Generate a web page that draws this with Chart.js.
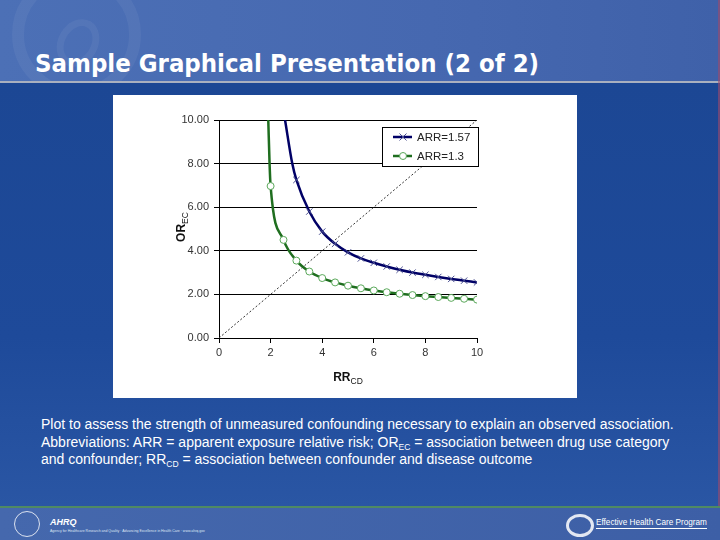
<!DOCTYPE html>
<html>
<head>
<meta charset="utf-8">
<script src="https://cdn.jsdelivr.net/npm/chart.js@4/dist/chart.umd.min.js"></script>
<style>
  html, body { margin: 0; padding: 0; }
  body { width: 720px; height: 540px; position: relative; overflow: hidden;
         background: #1d4796; font-family: "Liberation Sans", Arial, sans-serif; }
  #top { position: absolute; left: 0; top: 0; width: 720px; height: 81px; overflow: hidden;
         background: linear-gradient(90deg, #4c70b6 0%, #4668b0 60%, #3f61a9 100%); }
  #sep { position: absolute; left: 0; top: 81px; width: 720px; height: 2px; background: #a9b0bf; }
  #body { position: absolute; left: 0; top: 83px; width: 720px; height: 423px;
          background: linear-gradient(180deg, #1c4794 0%, #1e4a9a 60%, #2a56a4 100%); }
  #swirl1 { position: absolute; left: 12px; top: -30px; width: 105px; height: 105px; border-radius: 50%;
            border: 12px solid rgba(255,255,255,0.05); }
  #swirl2 { position: absolute; left: 58px; top: 18px; width: 26px; height: 36px; border-radius: 50%;
            border: 7px solid rgba(255,255,255,0.05); transform: rotate(30deg); }
  #title { position: absolute; left: 35px; top: 48px; color: #ffffff;
           font-family: "DejaVu Sans Condensed", "DejaVu Sans", sans-serif; font-weight: bold;
           font-size: 25.5px; white-space: nowrap; }
  #panel { position: absolute; left: 113px; top: 95px; width: 464px; height: 303px; background: #ffffff; }
  #caption { position: absolute; left: 41px; top: 416px; width: 680px; color: #ffffff;
             font-size: 14px; line-height: 17.5px; white-space: nowrap; }
  #caption sub { font-size: 8.5px; vertical-align: -3px; line-height: 0; }
  #foot { position: absolute; left: 0; top: 506px; width: 720px; height: 34px;
          background: linear-gradient(90deg, #4568ad 0%, #3d5fa6 100%); border-top: 2px solid #4f8a63; }
  #ahrq { position: absolute; left: 50px; top: 9px; color: #fff; font-weight: bold; font-style: italic;
          font-size: 9px; }
  #ahrqsub { position: absolute; left: 50px; top: 21px; color: #dfe6f3; font-size: 3.5px; white-space: nowrap; }
  #hhs { position: absolute; left: 14px; top: 3px; width: 24px; height: 24px; border-radius: 50%;
         border: 1.5px solid rgba(255,255,255,0.8); }
  #ehc { position: absolute; left: 596px; top: 10px; color: #ffffff; font-size: 8.2px; white-space: nowrap;
         border-bottom: 1px solid #ffffff; padding-bottom: 1px; }
  #ehclogo { position: absolute; left: 566px; top: 6px; width: 22px; height: 17px; border-radius: 50%;
             border: 3px solid rgba(255,255,255,0.85); }
  #edge { position: absolute; right: 0; top: 0; width: 2px; height: 540px; background: #a04a6a; opacity: 0.6; }
</style>
</head>
<body>
<div id="top"><div id="swirl1"></div><div id="swirl2"></div></div>
<div id="sep"></div>
<div id="body"></div>
<div id="edge"></div>
<div id="title">Sample Graphical Presentation (2 of 2)</div>
<div id="panel"><canvas id="chart" width="464" height="303"></canvas></div>
<div id="caption">Plot to assess the strength of unmeasured confounding necessary to explain an observed association.<br>Abbreviations: ARR = apparent exposure relative risk; OR<sub>EC</sub> = association between drug use category<br>and confounder; RR<sub>CD</sub> = association between confounder and disease outcome</div>
<div id="foot">
  <div id="hhs"></div>
  <div id="ahrq">AHRQ</div>
  <div id="ahrqsub">Agency for Healthcare Research and Quality · Advancing Excellence in Health Care · www.ahrq.gov</div>
  <div id="ehclogo"></div>
  <div id="ehc">Effective Health Care Program</div>
</div>
<script>
// ARR = 1.57 (first two points only trace the curve up to the top of the axis)
var seriesNames = ["ARR=1.57", "ARR=1.3"];
var rrHigh = [2.56, 2.84, 3, 3.5, 4, 4.5, 5, 5.5, 6, 6.5, 7, 7.5, 8, 8.5, 9, 9.5, 10];
var orHigh = [10, 8, 7.25, 5.8, 4.88, 4.32, 3.93, 3.65, 3.45, 3.28, 3.13, 3.0, 2.9, 2.8, 2.71, 2.63, 2.55];
// ARR = 1.3
var rrLow = [1.91, 1.96, 2, 2.5, 3, 3.5, 4, 4.5, 5, 5.5, 6, 6.5, 7, 7.5, 8, 8.5, 9, 9.5, 10];
var orLow = [10, 8, 6.97, 4.5, 3.55, 3.05, 2.75, 2.55, 2.4, 2.28, 2.18, 2.1, 2.03, 1.97, 1.92, 1.88, 1.84, 1.8, 1.76];
// reference line OR = RR
var diagX = [0, 10];
var diagY = [0, 10];
var xTicks = [0, 2, 4, 6, 8, 10];
var yTicks = [0, 2, 4, 6, 8, 10];

function toPoints(xs, ys) {
  return xs.map(function (x, i) { return { x: x, y: ys[i] }; });
}
function markerRadius(r) {
  return function (ctx) { return ctx.dataIndex < 2 ? 0 : r; };
}

var axisFont = { family: "'Liberation Sans', Arial, sans-serif", size: 11 };

// legend box inside the plot, upper right
var boxLegend = {
  id: "boxLegend",
  afterDraw: function (chart) {
    var c = chart.ctx, a = chart.chartArea;
    var w = 96, h = 39, left = a.right - 95, top = a.top + 7;
    c.save();
    c.fillStyle = "#ffffff";
    c.fillRect(left, top, w, h);
    c.strokeStyle = "#000000";
    c.lineWidth = 1;
    c.strokeRect(left + 0.5, top + 0.5, w, h);
    [0, 1].forEach(function (i) {
      var ds = chart.data.datasets[i];
      var y = top + 10 + i * 19;
      c.strokeStyle = ds.borderColor;
      c.lineWidth = 2.5;
      c.beginPath();
      c.moveTo(left + 11, y);
      c.lineTo(left + 30, y);
      c.stroke();
      c.lineWidth = 1;
      c.strokeStyle = ds.pointBorderColor;
      c.fillStyle = ds.pointBackgroundColor;
      if (ds.pointStyle === "crossRot") {
        c.beginPath();
        c.moveTo(left + 17.5, y - 3.5); c.lineTo(left + 24.5, y + 3.5);
        c.moveTo(left + 24.5, y - 3.5); c.lineTo(left + 17.5, y + 3.5);
        c.stroke();
      } else {
        c.beginPath();
        c.arc(left + 21, y, 3.5, 0, Math.PI * 2);
        c.fill(); c.stroke();
      }
      c.fillStyle = "#222222";
      c.font = "11.5px 'Liberation Sans', Arial, sans-serif";
      c.textBaseline = "middle";
      c.textAlign = "left";
      c.fillText(ds.label, left + 35, y + 0.5);
    });
    c.restore();
  }
};

// axis titles with subscripts
var subTitles = {
  id: "subTitles",
  afterDraw: function (chart) {
    var c = chart.ctx, a = chart.chartArea;
    function drawSub(main, sub, cx, cy) {
      c.font = "bold 12px 'Liberation Sans', Arial, sans-serif";
      var w1 = c.measureText(main).width;
      c.font = "8.5px 'Liberation Sans', Arial, sans-serif";
      var w2 = c.measureText(sub).width;
      var x0 = cx - (w1 + w2) / 2;
      c.fillStyle = "#111111";
      c.textAlign = "left";
      c.textBaseline = "alphabetic";
      c.font = "bold 12px 'Liberation Sans', Arial, sans-serif";
      c.fillText(main, x0, cy);
      c.font = "8.5px 'Liberation Sans', Arial, sans-serif";
      c.fillText(sub, x0 + w1, cy + 3);
    }
    c.save();
    drawSub("RR", "CD", (a.left + a.right) / 2, a.bottom + 43);
    c.restore();
    c.save();
    c.translate(a.left - 38, (a.top + a.bottom) / 2 - 2);
    c.rotate(-Math.PI / 2);
    drawSub("OR", "EC", 0, 4);
    c.restore();
  }
};

new Chart(document.getElementById("chart"), {
  type: "line",
  data: {
    datasets: [
      {
        label: seriesNames[0],
        data: toPoints(rrHigh, orHigh),
        borderColor: "#000066",
        borderWidth: 2.5,
        pointStyle: "crossRot",
        pointRadius: markerRadius(4.5),
        pointBorderColor: "#4a4f90",
        pointBackgroundColor: "#ffffff",
        pointBorderWidth: 1,
        cubicInterpolationMode: "monotone",
        clip: 0
      },
      {
        label: seriesNames[1],
        data: toPoints(rrLow, orLow),
        borderColor: "#1f6e1f",
        borderWidth: 2.5,
        pointStyle: "circle",
        pointRadius: markerRadius(3.5),
        pointBorderColor: "#5aa85a",
        pointBackgroundColor: "#ffffff",
        pointBorderWidth: 1,
        cubicInterpolationMode: "monotone",
        clip: 0
      },
      {
        label: "OR=RR",
        data: toPoints(diagX, diagY),
        borderColor: "#333333",
        borderWidth: 1,
        borderDash: [2, 2],
        pointRadius: 0,
        clip: 0
      }
    ]
  },
  options: {
    responsive: false,
    animation: false,
    layout: { padding: { left: 0, top: 25, right: 100, bottom: 0 } },
    plugins: { legend: { display: false }, tooltip: { enabled: false } },
    scales: {
      x: {
        type: "linear",
        min: 0, max: 10,
        afterBuildTicks: function (s) { s.ticks = xTicks.map(function (v) { return { value: v }; }); },
        afterFit: function (s) { s.height = 60; },
        ticks: { color: "#333333", font: axisFont, padding: 3, maxRotation: 0 },
        grid: { drawOnChartArea: false, drawTicks: true, tickLength: 5, color: "#000000" },
        border: { color: "#000000", width: 1 }
      },
      y: {
        type: "linear",
        min: 0, max: 10,
        afterBuildTicks: function (s) { s.ticks = yTicks.map(function (v) { return { value: v }; }); },
        afterFit: function (s) { s.width = 106; },
        ticks: { color: "#333333", font: axisFont, padding: 5,
                 callback: function (v) { return Number(v).toFixed(2); } },
        grid: { drawTicks: true, tickLength: 5, color: "#000000", lineWidth: 1 },
        border: { color: "#000000", width: 1 }
      }
    }
  },
  plugins: [boxLegend, subTitles]
});
</script>
</body>
</html>
